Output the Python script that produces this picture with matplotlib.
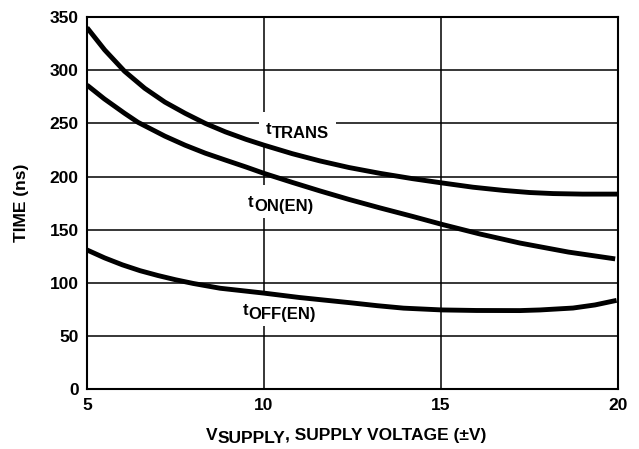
import matplotlib
matplotlib.use('Agg')
import matplotlib.pyplot as plt
from matplotlib.patches import Rectangle

plt.rcParams['font.family'] = ['Liberation Sans', 'DejaVu Sans']
plt.rcParams['font.weight'] = 'bold'

# points (tension d'alim en V, temps en ns)
trans_v = [5.0, 5.5, 6.06, 6.63, 7.2, 7.77, 8.34, 8.91, 9.49, 10.0, 10.8, 11.58,
           12.4, 13.28, 14.2, 15.03, 15.9, 16.76, 17.5, 18.17, 19.0, 20.0]
trans_t = [340, 319, 299, 283, 270, 259.5, 250, 242, 235, 229.5, 221.5, 214.7,
           208.5, 203, 198, 194, 190, 187, 185, 184, 183.5, 183.5]

on_v = [5.0, 5.49, 6.06, 6.44, 7.2, 7.77, 8.34, 8.91, 9.49, 10.0, 10.8, 11.58,
        12.4, 13.28, 14.2, 15.03, 16.1, 17.23, 18.6, 19.92]
on_t = [286, 273, 259.5, 251, 238, 229.5, 222, 215.5, 209, 203, 194.5, 186.5,
        178.5, 170.5, 162.5, 155, 146, 137.5, 129, 122.6]

off_v = [5.0, 5.5, 6.0, 6.5, 7.0, 7.5, 8.0, 8.76, 9.98, 11.0, 11.58, 12.43, 13.2,
         13.94, 15.03, 16.0, 17.23, 17.8, 18.73, 19.35, 19.96]
off_t = [131, 123.5, 117, 111.5, 107, 103, 99.5, 95, 90.5, 86.3, 84.3, 81.4, 78.6,
         76.3, 74.6, 74.1, 74, 74.6, 76.4, 79.3, 83.6]

x_ticks = [5, 10, 15, 20]
y_ticks = [0, 50, 100, 150, 200, 250, 300, 350]

fig = plt.figure(figsize=(6.39, 4.49), dpi=100)
ax = fig.add_axes([87 / 639, 59.7 / 449, 531 / 639, 372.3 / 449])

for v, t in [(trans_v, trans_t), (on_v, on_t), (off_v, off_t)]:
    ax.plot(v, t, color='black', linewidth=3.5, solid_joinstyle='round',
            solid_capstyle='butt', zorder=3)

ax.set_xlim(5, 20)
ax.set_ylim(0, 350)
ax.set_xticks(x_ticks)
ax.set_yticks(y_ticks)
ax.grid(True, color='black', linewidth=1.1)
ax.tick_params(length=0, labelsize=12.5, pad=6)
for s in ax.spines.values():
    s.set_linewidth(1.5)


def sub_text(x, y, main, sub, size=12, drop=3.0):
    # texte + indice de meme taille, decale vers le bas
    t1 = ax.text(x, y, main, fontsize=size, fontweight='bold', ha='left',
                 va='baseline', zorder=5)
    t2 = ax.annotate(sub, xy=(1, 0), xycoords=t1, xytext=(0.3, -drop),
                     textcoords='offset points', fontsize=size, fontweight='bold',
                     ha='left', va='bottom', zorder=5)
    return [t1, t2]


labels = [
    sub_text(10.05, 239.9, 't', 'TRANS'),
    sub_text(9.55, 171.3, 't', 'ON(EN)'),
    sub_text(9.40, 70.1, 't', 'OFF(EN)'),
]

# label axe x : V indice SUPPLY
xv = fig.text(0.3, 9 / 449, 'V', fontsize=12.5, fontweight='bold', ha='left', va='baseline')
xs = ax.annotate('SUPPLY', xy=(1, 0), xycoords=xv, xytext=(0.2, -2.5),
                 textcoords='offset points', fontsize=12.5, fontweight='bold',
                 ha='left', va='bottom', annotation_clip=False)
xr = ax.annotate(', SUPPLY VOLTAGE (±V)', xy=(1, 0), xycoords=xs, xytext=(0, 2.5),
                 textcoords='offset points', fontsize=12.5, fontweight='bold',
                 ha='left', va='bottom', annotation_clip=False)

fig.text(22 / 639, 0.5 * (59.7 + 432) / 449, 'TIME (ns)', fontsize=12.5, fontweight='bold',
         rotation=90, ha='center', va='center')

fig.canvas.draw()
r = fig.canvas.get_renderer()

# centrer le label x
x0 = xv.get_window_extent(r).x0
x1 = xr.get_window_extent(r).x1
xv.set_x(xv.get_position()[0] + (346 - 0.5 * (x0 + x1)) / 639)

# fond blanc derriere les etiquettes des courbes
inv = ax.transData.inverted()
for grp in labels:
    bbs = [t.get_window_extent(r) for t in grp]
    bx0 = min(b.x0 for b in bbs) - 7
    bx1 = max(b.x1 for b in bbs) + 7
    by0 = min(b.y0 for b in bbs) - 4
    by1 = max(b.y1 for b in bbs) + 10
    (dx0, dy0), (dx1, dy1) = inv.transform([(bx0, by0), (bx1, by1)])
    ax.add_patch(Rectangle((dx0, dy0), dx1 - dx0, dy1 - dy0, facecolor='white',
                           edgecolor='none', zorder=2.5))

fig.savefig('out.png', dpi=100)
